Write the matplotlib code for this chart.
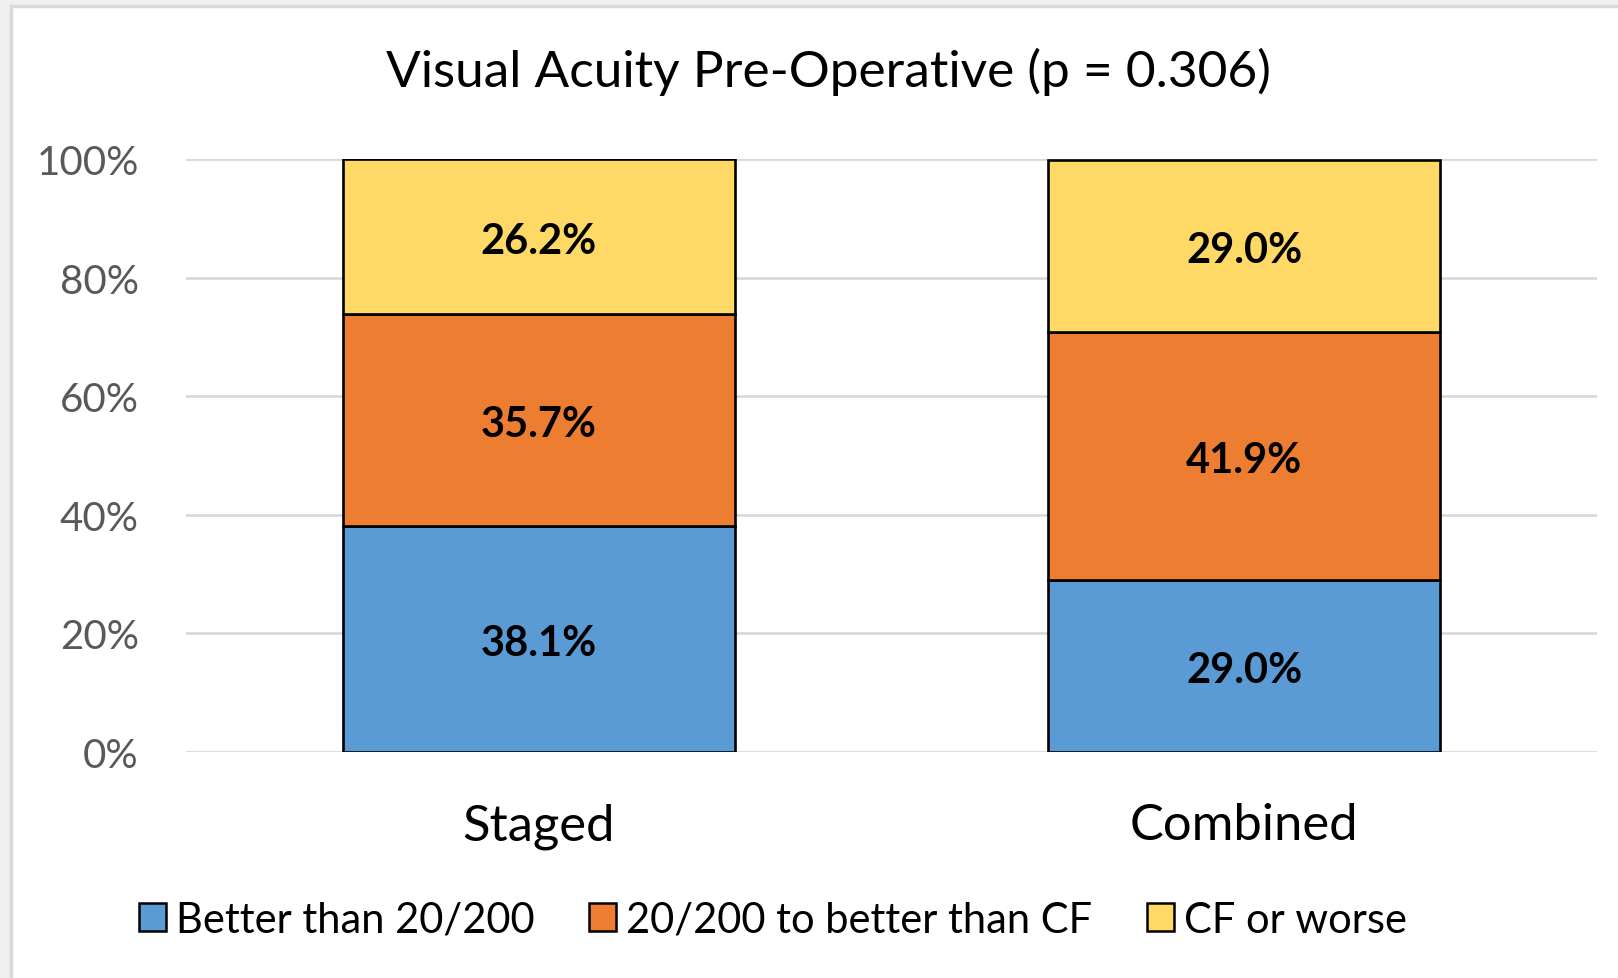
import matplotlib
matplotlib.use("Agg")
import matplotlib.pyplot as plt
from matplotlib.patches import Patch, Rectangle
import numpy as np

categories = ["Staged", "Combined"]
series_names = ["Better than 20/200", "20/200 to better than CF", "CF or worse"]
better_than_20_200 = [38.1, 29.0]
to_better_than_cf = [35.7, 41.9]
cf_or_worse = [26.2, 29.0]
yticks = [0, 20, 40, 60, 80, 100]
title = "Visual Acuity Pre-Operative (p = 0.306)"

colors = ["#5B9BD5", "#ED7D31", "#FFD966"]
FONT = "Lato"
plt.rcParams["font.family"] = [FONT, "DejaVu Sans"]

fig = plt.figure(figsize=(16.18, 9.79), dpi=100)
fig.patch.set_facecolor("#F0F0F0")
# white chart area with light frame
frame = Rectangle((11/1618, -0.1), 1.2, 1 - 7/979 + 0.1, transform=fig.transFigure,
                  facecolor="white", edgecolor="#D9D9D9", linewidth=2.5, zorder=-10)
fig.patches.append(frame)

ax = fig.add_axes([186/1618, 1 - 753/979, (1597 - 186)/1618, (753 - 160)/979])
ax.set_facecolor("none")

x = np.arange(len(categories))
width = 0.555
series = [better_than_20_200, to_better_than_cf, cf_or_worse]
bottom = np.zeros(len(categories))
for vals, c in zip(series, colors):
    vals = np.array(vals)
    ax.bar(x, vals, width, bottom=bottom, color=c, edgecolor="black", linewidth=1.9, zorder=3)
    for xi, b, v in zip(x, bottom, vals):
        ax.annotate(f"{v:.1f}%", (xi, b + v / 2), xytext=(0, -3), textcoords="offset points",
                    ha="center", va="center", fontsize=30,
                    fontweight="bold", color="black", zorder=4)
    bottom = bottom + vals

ax.set_xlim(-0.5, 1.5)
ax.set_ylim(0, 100)
ax.set_yticks(yticks)
ax.set_yticklabels([f"{t}%" for t in yticks], fontsize=29, color="#595959")
ax.set_xticks(x)
ax.set_xticklabels(categories, fontsize=36.5, color="black")
ax.tick_params(axis="y", length=0, pad=34)
ax.tick_params(axis="x", length=0, pad=36)
ax.yaxis.grid(True, color="#D9D9D9", linewidth=2.0, zorder=0)
ax.set_axisbelow(True)
for s in ["top", "right", "left", "bottom"]:
    ax.spines[s].set_visible(False)

fig.text(828/1618, 1 - 72/979, title, ha="center", va="center", fontsize=37, color="black")

handles = [Patch(facecolor=c, edgecolor="black", linewidth=1.8) for c in colors]
fig.legend(handles, series_names, loc="center", bbox_to_anchor=(773/1618, 1 - 921/979),
           ncol=3, frameon=False, fontsize=30, handlelength=0.65, handleheight=0.65,
           handletextpad=0.25, columnspacing=1.3)

fig.savefig("out.png", dpi=100, facecolor=fig.get_facecolor())
